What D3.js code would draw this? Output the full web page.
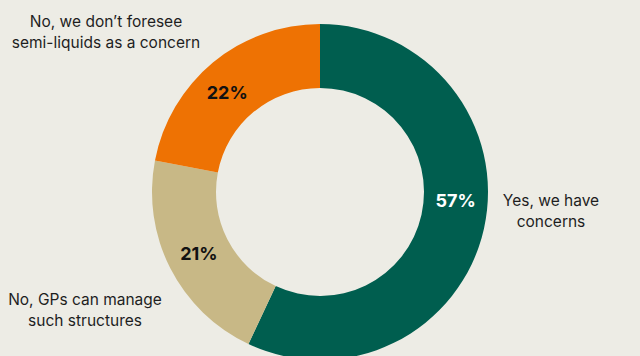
<!DOCTYPE html>
<html>
<head>
<meta charset="utf-8">
<script src="https://cdn.jsdelivr.net/npm/d3@7"></script>
<style>
  html, body { margin: 0; padding: 0; background: #edece5; }
  svg { display: block; }
</style>
</head>
<body>
<svg id="chart" width="640" height="356"></svg>
<script>
// Survey responses
const categories = [
  "Yes, we have concerns",
  "No, GPs can manage such structures",
  "No, we don\u2019t foresee semi-liquids as a concern"
];
const values = [57, 21, 22];
const valueLabels = ["57%", "21%", "22%"];
const categoryLines = [
  ["Yes, we have", "concerns"],
  ["No, GPs can manage", "such structures"],
  ["No, we don\u2019t foresee", "semi-liquids as a concern"]
];
const colors = ["#005e4f", "#c8b886", "#ee7203"];
const valueTextColors = ["#ffffff", "#111111", "#111111"];

const W = 640, H = 356;
const cx = 320, cy = 192;
const outerR = 168, innerR = 104;

const svg = d3.select("#chart");
svg.append("rect").attr("width", W).attr("height", H).attr("fill", "#edece5");

const g = svg.append("g").attr("transform", `translate(${cx},${cy})`);

const data = categories.map((c, i) => ({ category: c, value: values[i], i }));

const pie = d3.pie().value(d => d.value).sort(null);
const arcs = pie(data);

const arc = d3.arc().innerRadius(innerR).outerRadius(outerR);

g.selectAll("path.slice")
  .data(arcs)
  .join("path")
  .attr("class", "slice")
  .attr("d", arc)
  .attr("fill", d => colors[d.data.i]);

// Value labels sit in the middle of the ring; the large slice's label
// is pulled up near the horizontal so it stays beside its category text.
const midR = (innerR + outerR) / 2;
function labelAngle(d) {
  const mid = (d.startAngle + d.endAngle) / 2;
  if (d.index === 0) return mid - 0.155;
  if (d.index === 2) return mid - 0.06;
  return mid;
}
g.selectAll("text.value")
  .data(arcs)
  .join("text")
  .attr("class", "value")
  .attr("x", d => midR * Math.sin(labelAngle(d)))
  .attr("y", d => -midR * Math.cos(labelAngle(d)))
  .attr("text-anchor", "middle")
  .attr("dominant-baseline", "central")
  .attr("font-family", "Inter, 'Open Sans', sans-serif")
  .attr("font-weight", 700)
  .attr("font-size", 18)
  .attr("fill", d => valueTextColors[d.data.i])
  .text(d => valueLabels[d.data.i]);

// Category labels placed outside the ring
const catPos = [
  { x: 551, y: 200 },
  { x: 85, y: 299 },
  { x: 106, y: 21 }
];
const lineGap = 21;
categoryLines.forEach((lines, i) => {
  const t = svg.append("text")
    .attr("text-anchor", "middle")
    .attr("font-family", "Inter, 'Open Sans', sans-serif")
    .attr("font-size", 15.5)
    .attr("fill", "#1e1e1e");
  lines.forEach((ln, k) => {
    t.append("tspan")
      .attr("x", catPos[i].x)
      .attr("y", catPos[i].y + k * lineGap)
      .attr("dominant-baseline", "central")
      .text(ln);
  });
});
</script>
</body>
</html>
